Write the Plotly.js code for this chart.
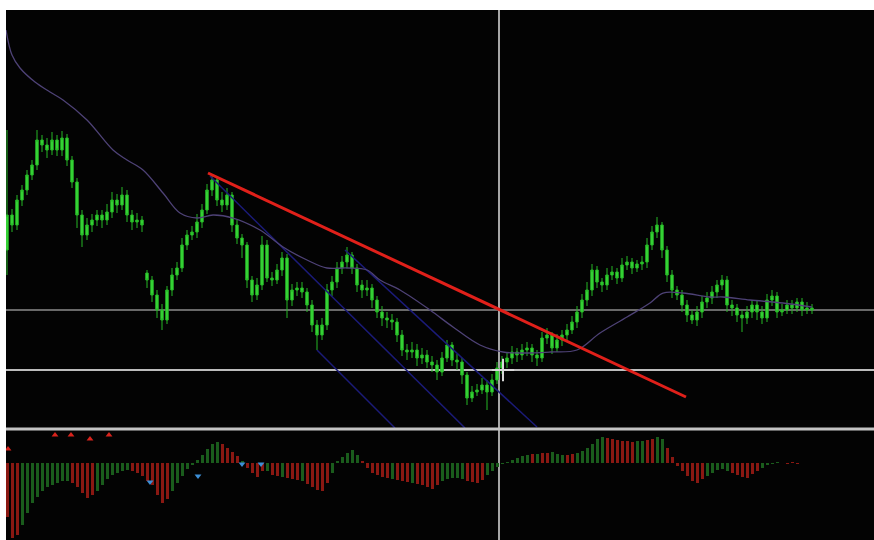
<!DOCTYPE html>
<html>
<head>
<meta charset="utf-8">
<script src="https://cdn.plot.ly/plotly-3.0.1.min.js"></script>
<style>html,body{margin:0;padding:0;background:#fff;}#chart{width:874px;height:540px;}</style>
</head>
<body>
<div id="chart"></div>
<script>
// Price values (points above the base level of the price panel)
const barIndex = Array.from({length: 162}, (_, i) => i);
const openV = [178,213,203,228,238,253,263,288,283,278,288,278,290,268,246,213,193,203,208,213,208,216,228,223,233,213,206,208,155,148,133,118,108,138,153,160,183,193,196,206,218,238,248,228,223,233,203,190,183,148,133,143,183,150,148,158,170,128,138,140,136,123,103,93,103,138,146,160,166,173,160,143,138,140,128,116,110,108,106,93,78,76,78,70,73,66,63,56,70,83,68,66,53,30,36,38,43,36,48,60,66,70,76,73,78,80,73,70,90,93,80,88,93,98,106,116,128,138,158,146,143,153,156,150,163,166,160,164,166,183,196,203,178,153,138,133,123,113,108,116,126,130,136,143,148,123,120,113,110,116,123,116,110,128,132,116,118,123,120,126,118,120];
const highV = [298,219,233,243,258,268,298,293,290,296,293,297,294,272,250,218,210,214,218,218,224,236,234,241,238,218,215,212,158,152,138,124,142,160,166,190,198,202,214,224,244,254,252,236,240,236,208,194,186,152,150,192,188,156,164,176,174,144,146,146,140,128,108,110,144,152,166,172,181,176,164,148,148,144,132,122,116,114,110,98,84,86,84,80,78,72,68,76,88,86,74,70,56,42,44,50,48,54,66,72,76,82,80,84,86,84,78,96,100,96,94,98,104,112,122,134,146,164,162,150,160,162,160,170,172,170,168,172,190,202,211,206,182,158,142,138,128,118,122,132,136,142,148,153,152,128,124,118,122,128,128,122,134,138,136,124,128,128,130,130,126,124];
const lowV = [153,196,198,222,233,248,258,276,270,273,272,272,262,240,200,181,188,196,202,200,203,210,215,218,206,198,200,196,140,126,110,98,104,132,148,156,178,188,190,200,214,232,222,216,218,196,184,170,140,126,128,138,146,142,144,152,110,122,132,130,116,96,78,88,98,132,140,154,160,154,136,130,132,120,110,102,100,98,86,72,68,70,62,64,60,56,48,52,66,62,58,44,23,26,32,34,18,32,44,54,60,64,66,68,72,66,62,66,84,74,76,82,88,94,100,110,122,132,140,136,138,148,144,146,158,154,156,158,160,178,190,170,146,130,128,116,106,104,102,110,120,124,130,138,116,112,106,96,104,110,108,104,106,122,110,112,114,114,116,112,114,114];
const closeV = [213,203,228,238,253,263,288,283,278,288,278,290,268,246,213,193,203,208,213,208,216,228,223,233,213,206,208,203,148,133,118,108,138,153,160,183,193,196,206,218,238,248,228,223,233,203,190,183,148,133,143,183,150,148,158,170,128,138,140,136,123,103,93,103,138,146,160,166,173,160,143,138,140,128,116,110,108,106,93,78,76,78,70,73,66,63,56,70,83,68,66,53,30,36,38,43,36,48,60,66,70,76,73,78,80,73,70,90,93,80,88,93,98,106,116,128,138,158,146,143,153,156,150,163,166,160,164,166,183,196,203,178,153,138,133,123,113,108,116,126,130,136,143,148,123,120,113,110,116,123,116,110,128,132,116,118,123,120,126,118,120,118];

// Moving average (bar index, value)
const maIdx = [-0.2,1,2.6,5.6,8.6,11.2,16,21.2,24,27.2,31.2,34.6,38,41.2,45.2,50.6,55.2,60,64,68,72,74.6,78.6,84.6,89.2,94.6,99.2,103.2,108.6,114,118.6,124,128.6,131.2,135.2,140.6,143.2,148.6,155.2,161];
const maV = [398,373,360,346,336,328,308,278,268,258,235,215,210,213,210,198,181,168,160,160,158,148,138,118,101,83,76,75,76,78,95,111,125,135,135,131,131,128,125,121];

// Drawn lines
const trendIdx = [40.2, 135.8];
const trendV = [255, 31];
const chan1Idx = [40.6, 91.6];
const chan1V = [252, 0];
const chan2Idx = [62, 77.6];
const chan2V = [78, 0];
const chan3Idx = [67.6, 106];
const chan3V = [178, 1];
const levelV = [118, 58];
const crossIdx = [98.4];
const cursorIdx = [99.2];
const cursorV = [58];

// Oscillator histogram
const oscV = [-54,-75,-72,-62,-50,-40,-34,-28,-24,-22,-20,-18,-18,-20,-24,-30,-35,-32,-28,-22,-16,-12,-10,-8,-7,-8,-10,-13,-18,-22,-32,-40,-36,-28,-20,-13,-6,-2,3,8,14,19,21,19,15,11,7,2,-5,-10,-14,-8,-8,-12,-13,-14,-15,-16,-17,-18,-21,-24,-27,-28,-20,-10,2,6,10,13,8,2,-5,-10,-12,-14,-15,-16,-17,-18,-19,-20,-21,-22,-24,-26,-22,-18,-16,-15,-15,-16,-18,-19,-20,-17,-12,-8,-4,-1,1,3,5,7,8,9,9,10,10,11,9,8,8,9,10,12,15,19,24,26,25,24,23,22,22,21,22,22,23,24,26,24,15,6,-3,-8,-13,-18,-20,-16,-13,-10,-7,-6,-8,-10,-12,-14,-15,-11,-8,-5,-2,-1,0.6,0.5,-0.5,0.6,-0.5,0.5,0.4,0.5];
const oscDir = "rrrggggggggggrrrrrgggggggrrrrrrrrggggggggggrrrrgrrrrgrrgrrrgrrrrrggggggrrrrrrgrrrgrrrrrgggggrrrrgggggggggrgrrgggrrggggggrrrrrrggrrggrrrrrrrrgggggrrrrrrgggggrrrrrrrrr";
const upArrowIdx = [0.2, 9.6, 12.8, 16.6, 20.4];
const upArrowV = [14, 28, 28, 24, 28];
const downArrowIdx = [28.6, 38.2, 47, 50.8];
const downArrowV = [-19, -13, -1, -1];

const oscColors = oscV.map((v, i) => oscDir[i] === 'g' ? '#1a5c1c' : '#8a1812');

const traces = [
  {type:'scatter', mode:'lines', x:chan1Idx, y:chan1V, line:{color:'#1b1b78', width:1.5}, xaxis:'x', yaxis:'y'},
  {type:'scatter', mode:'lines', x:chan2Idx, y:chan2V, line:{color:'#1b1b78', width:1.5}, xaxis:'x', yaxis:'y'},
  {type:'scatter', mode:'lines', x:chan3Idx, y:chan3V, line:{color:'#1b1b78', width:1.5}, xaxis:'x', yaxis:'y'},
  {type:'scatter', mode:'lines', x:maIdx, y:maV, line:{color:'#4e4276', width:1.3, shape:'spline'}, xaxis:'x', yaxis:'y'},
  {type:'candlestick', x:barIndex, open:openV, high:highV, low:lowV, close:closeV,
   increasing:{line:{color:'#26b826', width:1}, fillcolor:'#3bdc3b'},
   decreasing:{line:{color:'#26b826', width:1}, fillcolor:'#3bdc3b'},
   whiskerwidth:0, xaxis:'x', yaxis:'y'},
  {type:'scatter', mode:'lines', x:trendIdx, y:trendV, line:{color:'#e0201a', width:3}, xaxis:'x', yaxis:'y'},
  {type:'scatter', mode:'markers', x:cursorIdx, y:cursorV, marker:{symbol:'cross-thin-open', size:16, color:'#d8d8d8', line:{color:'#d8d8d8', width:2}}, xaxis:'x', yaxis:'y'},
  {type:'bar', x:barIndex, y:oscV, marker:{color:oscColors, line:{width:0}}, width:0.6, xaxis:'x', yaxis:'y2'},
  {type:'scatter', mode:'markers', x:upArrowIdx, y:upArrowV, marker:{symbol:'triangle-up', size:6, color:'#d8231c'}, xaxis:'x', yaxis:'y2'},
  {type:'scatter', mode:'markers', x:downArrowIdx, y:downArrowV, marker:{symbol:'triangle-down', size:6, color:'#3d8fd6'}, xaxis:'x', yaxis:'y2'}
];

const shapes = [
  {type:'line', xref:'paper', x0:0, x1:1, yref:'y', y0:levelV[0], y1:levelV[0], line:{color:'#8c8c8c', width:1.5}, layer:'below'},
  {type:'line', xref:'paper', x0:0, x1:1, yref:'y', y0:levelV[1], y1:levelV[1], line:{color:'#bdbdbd', width:2}, layer:'below'},
  {type:'line', xref:'paper', x0:0, x1:1, yref:'paper', y0:0.2094, y1:0.2094, line:{color:'#c4c4c4', width:3}},
  {type:'line', xref:'x', x0:crossIdx[0], x1:crossIdx[0], yref:'paper', y0:0, y1:1, line:{color:'#a6a6a6', width:2}, layer:'below'}
];

const axisOff = {showgrid:false, zeroline:false, showticklabels:false, ticks:'', showline:false, fixedrange:true};

const layout = {
  width:874, height:540,
  margin:{l:6, r:0, t:10, b:0, pad:0},
  paper_bgcolor:'#ffffff', plot_bgcolor:'#030303',
  showlegend:false,
  bargap:0,
  xaxis:Object.assign({range:[-0.2,173.4], rangeslider:{visible:false}}, axisOff),
  yaxis:Object.assign({domain:[0.2113,1], range:[0,418]}, axisOff),
  yaxis2:Object.assign({domain:[0,0.2075], range:[-77,33]}, axisOff),
  shapes:shapes,
  hovermode:false
};

Plotly.newPlot('chart', traces, layout, {staticPlot:true, displayModeBar:false});
</script>
</body>
</html>
